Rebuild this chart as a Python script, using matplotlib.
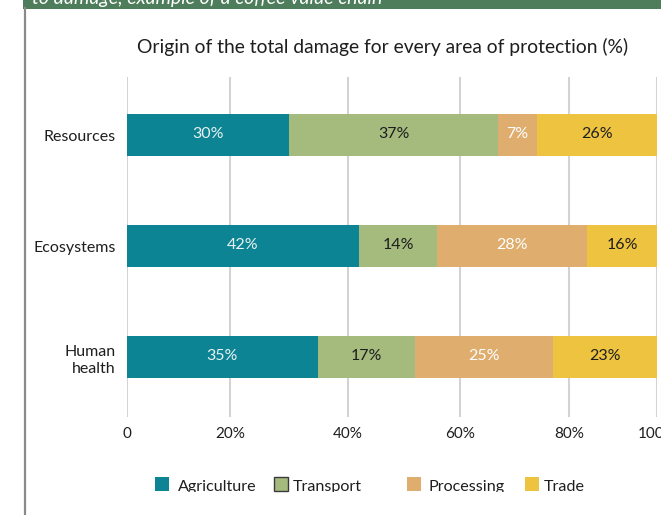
import numpy as np
import matplotlib
matplotlib.use('Agg')
import matplotlib.pyplot as plt
from matplotlib.patches import Rectangle
from matplotlib.lines import Line2D
from matplotlib.transforms import Bbox, TransformedBbox

# ---------------- data ----------------
categories = ['Resources', 'Ecosystems', 'Human\nhealth']
stages = ['Agriculture', 'Transport', 'Processing', 'Trade']
agriculture = [30, 42, 35]
transport = [37, 14, 17]
processing = [7, 28, 25]
trade = [26, 16, 23]
tick_values = [0, 20, 40, 60, 80, 100]
tick_labels = ['0', '20%', '40%', '60%', '80%', '100%']
title = 'Origin of the total damage for every area of protection (%)'
banner = 'to damage, example of a coffee value chain'

# ---------------- style ----------------
plt.rcParams['font.family'] = ['Lato', 'DejaVu Sans']
colors = ['#0C8493', '#A5BB7E', '#DFAD6D', '#EEC33F']
label_colors = ['#EAF2F2', '#1E1E1E', '#FFFFFF', '#1E1E1E']
text_color = '#1E1E1E'

# gridline placement along the axis (% of width), as drawn in the source figure
grid_frac = [0, 19.5, 41.7, 62.8, 83.5, 100]


def fwd(x):
    return np.interp(x, tick_values, grid_frac)


def inv(x):
    return np.interp(x, grid_frac, tick_values)


W, H = 661, 515
fig = plt.figure(figsize=(W / 100, H / 100), dpi=100)

# banner and frame
fig.patches.append(Rectangle((23 / W, 1 - 9 / H), 1, 9 / H, transform=fig.transFigure,
                             facecolor='#4E7D5B', edgecolor='none', zorder=0))
fig.text(32 / W, 1 - 4 / H, banner, color='white', fontsize=14, style='italic',
         ha='left', va='baseline')
fig.lines.append(Line2D([24.5 / W, 24.5 / W], [0, 1 - 8 / H], transform=fig.transFigure,
                        color='#8A8A8A', lw=1.6))

fig.text(383 / W, 1 - 47 / H, title, ha='center', va='center', fontsize=13.9, color=text_color)

ax = fig.add_axes([126.5 / W, 1 - 417 / H, 530.5 / W, 340 / H])
ax.set_xscale('function', functions=(fwd, inv))
ax.set_xlim(0, 100)
ax.set_ylim(2.54, -0.5225)

y = np.arange(len(categories))
series = [agriculture, transport, processing, trade]
left = np.zeros(len(categories))
for vals, c, lc in zip(series, colors, label_colors):
    vals = np.array(vals, dtype=float)
    ax.barh(y, vals, left=left, height=0.385, color=c, edgecolor='none', zorder=2)
    for yi, l, v in zip(y, left, vals):
        mid = inv((fwd(l) + fwd(l + v)) / 2)
        ax.text(mid, yi - 0.012, f'{int(v)}%', ha='center', va='center',
                color=lc, fontsize=11.5, zorder=3)
    left = left + vals

ax.set_xticks(tick_values)
ax.set_xticklabels(tick_labels)
ax.set_yticks(y)
ax.set_yticklabels(categories, linespacing=1.3)
ax.tick_params(axis='x', length=0, pad=7, labelsize=11, labelcolor=text_color)
ax.tick_params(axis='y', length=0, pad=8, labelsize=11.5, labelcolor=text_color)
ax.grid(axis='x', color='#D3D3D3', lw=1.5, zorder=0)
ax.set_axisbelow(True)
for s in ax.spines.values():
    s.set_visible(False)

# legend (drawn manually to mirror the uneven spacing of the source)
sq_x = [155, 274, 407, 525]
tx_x = [178, 293, 428, 544]
clip = TransformedBbox(Bbox([[0, 1 - 492 / H], [1, 1]]), fig.transFigure)
for name, c, sx, tx in zip(stages, colors, sq_x, tx_x):
    ec = '#3A3A3A' if name == 'Transport' else 'none'
    fig.patches.append(Rectangle((sx / W, 1 - 490.7 / H), 13.5 / W, 13.7 / H,
                                 transform=fig.transFigure, facecolor=c,
                                 edgecolor=ec, lw=1.0))
    t = fig.text(tx / W, 1 - 491 / H, name, ha='left', va='baseline',
                 fontsize=11.6, color=text_color)
    t.set_clip_on(True)
    t.set_clip_box(clip)

fig.savefig('out.png', dpi=100)
